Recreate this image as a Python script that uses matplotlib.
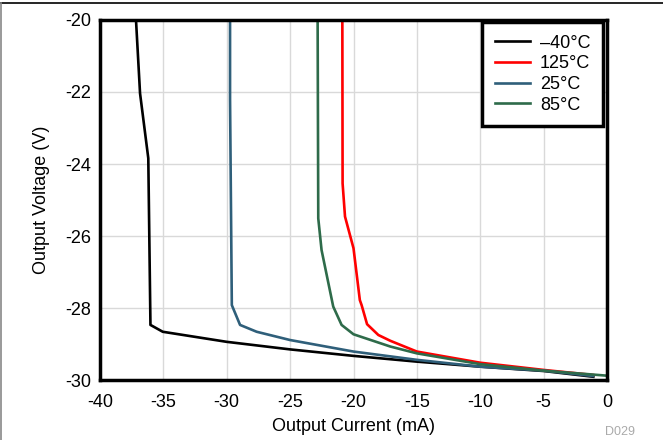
import matplotlib
matplotlib.use("Agg")
import matplotlib.pyplot as plt
from matplotlib.lines import Line2D

plt.rcParams['font.family'] = ['Liberation Sans', 'DejaVu Sans']

# -40°C
i_m40 = [-37.16, -36.84, -36.19, -36.02, -35.05, -30.0, -25.0, -20.0, -15.0, -10.0, -5.0, -1.08]
v_m40 = [-20.0, -22.04, -23.84, -28.47, -28.66, -28.94, -29.15, -29.33, -29.49, -29.63, -29.75, -29.91]
# 125°C
i_125 = [-20.88, -20.86, -20.67, -20.0, -19.5, -19.36, -18.93, -18.04, -17.1, -15.0, -10.0, -5.0, -1.1]
v_125 = [-20.0, -24.54, -25.46, -26.34, -27.78, -27.92, -28.45, -28.75, -28.91, -29.21, -29.52, -29.72, -29.86]
# 25°C
i_25 = [-29.74, -29.74, -29.6, -28.95, -27.64, -25.0, -20.0, -15.0, -10.0, -5.0, -1.1]
v_25 = [-20.0, -22.2, -27.92, -28.47, -28.66, -28.89, -29.21, -29.44, -29.63, -29.74, -29.89]
# 85°C
i_85 = [-22.83, -22.78, -22.52, -21.6, -20.94, -20.0, -17.1, -15.0, -10.0, -5.0, 0.0]
v_85 = [-20.0, -25.51, -26.39, -27.96, -28.47, -28.73, -29.07, -29.26, -29.56, -29.74, -29.88]

labels = ['\u201340\u00b0C', '125\u00b0C', '25\u00b0C', '85\u00b0C']
colors = ['#000000', '#ff0000', '#2f5f7a', '#2e6b4a']

xticks = [-40, -35, -30, -25, -20, -15, -10, -5, 0]
yticks = [-30, -28, -26, -24, -22, -20]

fig = plt.figure(figsize=(6.63, 4.40), dpi=100)
ax = fig.add_axes([100/663, 1-380/440, 507/663, 360/440])

for (x, y), lab, c in zip([(i_m40, v_m40), (i_125, v_125), (i_25, v_25), (i_85, v_85)], labels, colors):
    ax.plot(x, y, color=c, lw=1.9, label=lab)

ax.set_xlim(-40, 0)
ax.set_ylim(-30, -20)
ax.set_xticks(xticks)
ax.set_yticks(yticks)
ax.set_xticklabels([str(t) for t in xticks])
ax.set_yticklabels([str(t) for t in yticks])
ax.tick_params(length=0, labelsize=13)
ax.tick_params(axis='x', pad=10)
ax.tick_params(axis='y', pad=6.5)
ax.grid(True, color='#d9d9d9', lw=1.0)
ax.set_axisbelow(True)
for s in ax.spines.values():
    s.set_linewidth(2.5)
    s.set_color('black')

ax.set_xlabel('Output Current (mA)', fontsize=13, labelpad=5)
ax.set_ylabel('Output Voltage (V)', fontsize=13, labelpad=11)

leg = ax.legend(loc='upper right', bbox_to_anchor=(0.992, 0.994), fontsize=13,
                frameon=True, fancybox=False, edgecolor='black', framealpha=1,
                borderaxespad=0, handlelength=1.95, handletextpad=0.55,
                labelspacing=0.2, borderpad=0.7)
leg.get_frame().set_linewidth(2.5)

fig.text(620/663, 1-432/440, 'D029', fontsize=9, color='#aaaaaa', ha='center', va='center')

fig.add_artist(Line2D([0, 1], [1-3/440, 1-3/440], transform=fig.transFigure, color='black', lw=1.2))
fig.add_artist(Line2D([0.5/663, 0.5/663], [0, 1-3/440], transform=fig.transFigure, color='#888888', lw=1.2))

fig.savefig('out.png', dpi=100)
